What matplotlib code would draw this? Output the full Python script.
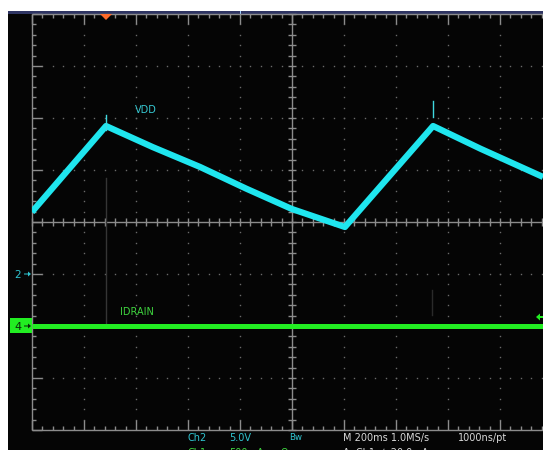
import matplotlib
matplotlib.use("Agg")
import matplotlib.pyplot as plt
import numpy as np
from matplotlib.patches import Rectangle, Polygon
from matplotlib.collections import LineCollection

# ---- captured waveform data ----
# Ch2 (VDD), time in ms relative to trigger, volts
vdd_t_ms = [-285, 0, 180, 362, 540, 715, 919, 1258, 1440, 1681]
vdd_v = [5.96, 14.23, 12.2, 10.29, 8.2, 6.25, 4.52, 14.23, 12.05, 9.33]
# switching spikes on VDD at the turn-over points
spike_t_ms = [0, 1258]
spike_top_v = [15.3, 16.6]
# Ch1 (IDRAIN), mA
idrain_t_ms = [-285, 1681]
idrain_ma = [0, 0]

# readout text
readout_ch2 = ["Ch2", "5.0V", "Bw"]
readout_time = ["M 200ms 1.0MS/s", "1000ns/pt"]
readout_ch1 = ["Ch1", "500mA", "\u03a9", "A  Ch1  \u2215  20.0mA"]

# scope settings
t_per_div = 200.0      # ms/div
v_per_div = 5.0        # V/div (Ch2)
i_per_div = 500.0      # mA/div (Ch1)

W, H = 543, 450
fig = plt.figure(figsize=(W / 100, H / 100), dpi=100, facecolor="white")

def fx(px):
    return px / W

def fy(py):
    return 1 - py / H

# screen background and top bar (behind the axes)
fig.patches.append(Rectangle((fx(8), 0), fx(W - 8), fy(14), transform=fig.transFigure,
                             facecolor="#050505", edgecolor="none", zorder=-2))
fig.patches.append(Rectangle((fx(8), fy(14)), fx(W - 8), 3 / H, transform=fig.transFigure,
                             facecolor="#2f3563", edgecolor="none", zorder=-2))
fig.patches.append(Rectangle((fx(240), fy(14)), 1 / W, 3 / H, transform=fig.transFigure,
                             facecolor="#9fd0ff", edgecolor="none", zorder=-1))

# graticule area
gx0, gx1 = 32, 543
gy_top, gy_bot = 14, 430
pos = [fx(gx0), 1 - gy_bot / H, (gx1 - gx0) / W, (gy_bot - gy_top) / H]
ndiv_x = (gx1 - gx0) / 52.0

ax_g = fig.add_axes(pos)
ax_g.set_xlim(0, ndiv_x)
ax_g.set_ylim(-4, 4)
ax_g.set_facecolor("none")
ax_g.axis("off")

grid_col = "#8c8c8c"
dot_col = "#6a6a6a"

# dotted division lines
for k in range(1, 10):
    if k == 5:
        continue
    ys = np.arange(-4, 4.001, 0.2)
    ax_g.plot(np.full_like(ys, k), ys, ls="none", marker="s", ms=1.0,
              color=dot_col, mew=0)
for m in [-3, -2, -1, 1, 2, 3]:
    xs = np.arange(0, ndiv_x, 0.2)
    ax_g.plot(xs, np.full_like(xs, m), ls="none", marker="s", ms=1.0,
              color=dot_col, mew=0)

segs = []
# frame edges
segs += [[(0, -4), (0, 4)], [(0, 4), (ndiv_x, 4)], [(0, -4), (ndiv_x, -4)]]
# center cross
segs += [[(5, -4), (5, 4)], [(0, 0), (ndiv_x, 0)]]
# edge ticks
for j in range(0, int(ndiv_x / 0.2) + 1):
    x = j * 0.2
    L = 0.2 if j % 5 == 0 else 0.08
    segs.append([(x, 4), (x, 4 - L)])
    segs.append([(x, -4), (x, -4 + L)])
    segs.append([(x, -0.08), (x, 0.08)])
for j in range(0, 41):
    y = -4 + j * 0.2
    L = 0.2 if j % 5 == 0 else 0.08
    segs.append([(0, y), (L, y)])
    segs.append([(5 - 0.08, y), (5 + 0.08, y)])
ax_g.add_collection(LineCollection(segs, colors=grid_col, linewidths=1.0,
                                   clip_on=False))

# Ch2 axes (VDD)
trig_px = 106
t_left = -(trig_px - gx0) / 52.0 * t_per_div
t_right = t_left + ndiv_x * t_per_div
ax_v = fig.add_axes(pos)
ax_v.set_facecolor("none")
ax_v.axis("off")
ax_v.set_xlim(t_left, t_right)
ch2_ground_div = -1
ax_v.set_ylim((-4 - ch2_ground_div) * v_per_div, (4 - ch2_ground_div) * v_per_div)

cyan = "#1fe6ef"
# faint persistence streaks
ax_v.plot([0, 0], [9.2, -5.0], color="#353535", lw=1.0)
ax_v.plot([1254, 1254], [-1.5, -3.9], color="#2a2a2a", lw=1.0)
ax_v.plot(vdd_t_ms, vdd_v, color=cyan, lw=4.5, solid_joinstyle="round",
          solid_capstyle="butt")
for t, v in zip(spike_t_ms, spike_top_v):
    ax_v.plot([t, t], [v - 1.5, v], color="#3fd8e0", lw=1.0)
ax_v.text(110, 15.8, "VDD", color="#36c9d3", fontsize=7, ha="left", va="center")

# Ch1 axes (IDRAIN)
ax_i = fig.add_axes(pos)
ax_i.set_facecolor("none")
ax_i.axis("off")
ax_i.set_xlim(t_left, t_right)
ch1_ground_div = -2
ax_i.set_ylim((-4 - ch1_ground_div) * i_per_div, (4 - ch1_ground_div) * i_per_div)
green = "#22ee22"
ax_i.plot(idrain_t_ms, idrain_ma, color=green, lw=3.6, solid_capstyle="butt")
ax_i.text(55, 130, "IDRAIN", color="#3fd63f", fontsize=7, ha="left", va="center")

# trigger position marker (top)
tri = Polygon([[fx(100), fy(14)], [fx(112), fy(14)], [fx(106), fy(20)]],
              closed=True, transform=fig.transFigure, facecolor="#ff6a2a",
              edgecolor="none", zorder=5)
fig.patches.append(tri)

# channel ground markers (left)
fig.text(fx(18), fy(275), "2", color="#2fc4d0", fontsize=7.5, ha="center", va="center")
fig.patches.append(Polygon([[fx(24), fy(273.5)], [fx(28), fy(273.5)], [fx(28), fy(271.5)],
                            [fx(31), fy(274)], [fx(28), fy(276.5)], [fx(28), fy(274.5)],
                            [fx(24), fy(274.5)]], closed=True, transform=fig.transFigure,
                           facecolor="#2fc4d0", edgecolor="none", zorder=5))
fig.patches.append(Rectangle((fx(10), fy(333)), 22 / W, 15 / H, transform=fig.transFigure,
                             facecolor=green, edgecolor="none", zorder=5))
fig.text(fx(18), fy(326.5), "4", color="#0a2a0a", fontsize=8, ha="center", va="center",
         zorder=6)
fig.patches.append(Polygon([[fx(24), fy(325.5)], [fx(28), fy(325.5)], [fx(28), fy(323.5)],
                            [fx(31), fy(326)], [fx(28), fy(328.5)], [fx(28), fy(326.5)],
                            [fx(24), fy(326.5)]], closed=True, transform=fig.transFigure,
                           facecolor="#0a2a0a", edgecolor="none", zorder=6))

# trigger level marker (right)
fig.patches.append(Polygon([[fx(536), fy(317)], [fx(540), fy(313.5)], [fx(540), fy(320.5)]],
                           closed=True, transform=fig.transFigure, facecolor=green,
                           edgecolor="none", zorder=5))
fig.patches.append(Rectangle((fx(540), fy(318)), 3 / W, 2 / H, transform=fig.transFigure,
                             facecolor=green, edgecolor="none", zorder=5))

# readout rows
ry = fy(438)
fig.text(fx(187), ry, readout_ch2[0], color="#2fc4d0", fontsize=7, va="center")
fig.text(fx(229), ry, readout_ch2[1], color="#2fc4d0", fontsize=7, va="center")
fig.text(fx(289), ry, readout_ch2[2], color="#2fc4d0", fontsize=6.2, va="center")
fig.text(fx(343), ry, readout_time[0], color="#d8d8d8", fontsize=7, va="center")
fig.text(fx(458), ry, readout_time[1], color="#d8d8d8", fontsize=7, va="center")

# second readout row runs past the lower screen edge
ry2 = fy(447.5)
fig.text(fx(187), ry2, readout_ch1[0], color="#3fd63f", fontsize=7, va="top")
fig.text(fx(229), ry2, readout_ch1[1], color="#3fd63f", fontsize=7, va="top")
fig.text(fx(281), ry2, readout_ch1[2], color="#3fd63f", fontsize=7, va="top")
fig.text(fx(343), ry2, readout_ch1[3], color="#d8d8d8", fontsize=7, va="top")

fig.savefig("out.png", dpi=100, facecolor=fig.get_facecolor())
